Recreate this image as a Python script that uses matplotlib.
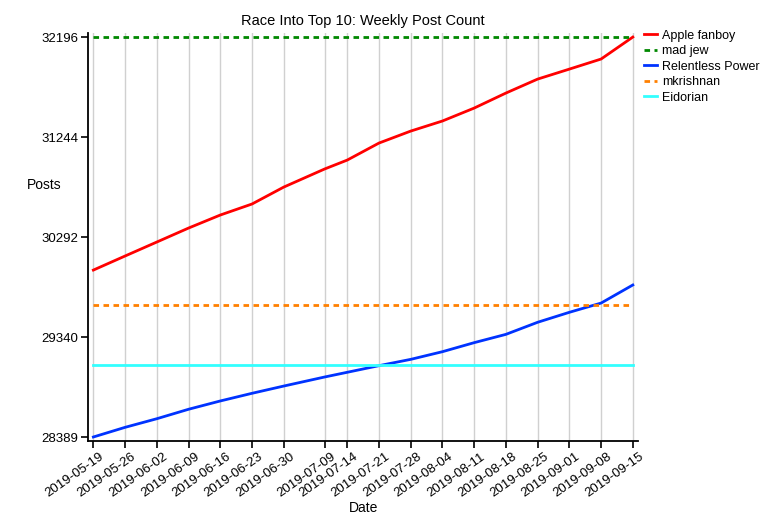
import matplotlib

matplotlib.use("Agg")
import matplotlib.pyplot as plt
import matplotlib.dates as mdates
import matplotlib.transforms as mtransforms
import pandas as pd

plt.rcParams["font.family"] = ["Liberation Sans", "DejaVu Sans"]

dates = [
    "2019-05-19", "2019-05-26", "2019-06-02", "2019-06-09", "2019-06-16",
    "2019-06-23", "2019-06-30", "2019-07-09", "2019-07-14", "2019-07-21",
    "2019-07-28", "2019-08-04", "2019-08-11", "2019-08-18", "2019-08-25",
    "2019-09-01", "2019-09-08", "2019-09-15",
]

apple_fanboy = [
    29978, 30112, 30245, 30378, 30502, 30607, 30768, 30940, 31025,
    31187, 31301, 31397, 31520, 31663, 31796, 31891, 31987, 32196,
]
mad_jew = [32196] * len(dates)
relentless_power = [
    28389, 28481, 28563, 28653, 28732, 28805, 28874, 28960, 29005,
    29068, 29128, 29201, 29287, 29366, 29481, 29576, 29664, 29836,
]
mkrishnan = [29642] * len(dates)
eidorian = [29077] * len(dates)

y_ticks = [28389, 29340, 30292, 31244, 32196]

x = pd.to_datetime(dates)

fig = plt.figure(figsize=(7.75, 5.25), dpi=100)
ax = fig.add_axes([0.1135, 0.16, 0.71, 0.777])

dot = (0, (2, 1.6))
ax.plot(x, apple_fanboy, color="#ff0000", linewidth=2, label="Apple fanboy")
ax.plot(x, mad_jew, color="#008800", linewidth=2, linestyle=dot, label="mad jew")
ax.plot(x, relentless_power, color="#0033ff", linewidth=2, label="Relentless Power")
ax.plot(x, mkrishnan, color="#ff8000", linewidth=2, linestyle=dot, label="mkrishnan")
ax.plot(x, eidorian, color="#33ffff", linewidth=2, label="Eidorian")

ax.margins(x=0.01, y=0.01)
ax.set_xticks(x)
ax.xaxis.set_major_formatter(mdates.DateFormatter("%Y-%m-%d"))
ax.set_yticks(y_ticks)
ax.tick_params(axis="x", labelrotation=35, labelsize=9.5, length=5, width=1.2, pad=2)
ax.tick_params(axis="y", labelsize=9.5, length=5, width=1.2, pad=2)
shift = mtransforms.ScaledTranslation(6 / 100, 0, fig.dpi_scale_trans)
for lab in ax.get_xticklabels():
    lab.set_ha("right")
    lab.set_rotation_mode("anchor")
    lab.set_transform(lab.get_transform() + shift)

ax.grid(axis="x", color="#d0d0d0", linewidth=1.0)
ax.set_axisbelow(True)
for side in ("top", "right"):
    ax.spines[side].set_visible(False)
for side in ("left", "bottom"):
    ax.spines[side].set_linewidth(1.3)

ax.set_title("Race Into Top 10: Weekly Post Count", fontsize=10.5, pad=6)
ax.set_xlabel("Date", fontsize=10, labelpad=0)
ax.xaxis.set_label_coords(0.5, -0.148)
ax.set_ylabel("Posts", fontsize=10, rotation=0)
ax.yaxis.set_label_coords(-0.08, 0.61)

ax.legend(loc="upper left", bbox_to_anchor=(0.995, 1.03), frameon=False,
          fontsize=9, handlelength=1.0, handletextpad=0.45, labelspacing=0.28,
          borderaxespad=0.3)

fig.savefig("out.png", dpi=100)
